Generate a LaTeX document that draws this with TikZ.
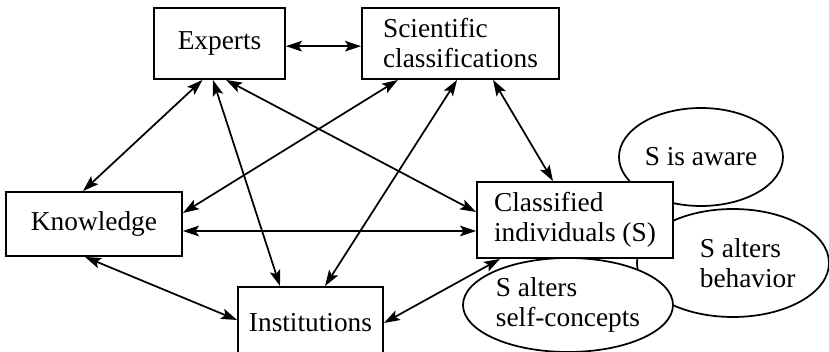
\documentclass[tikz,border=0pt]{standalone}
\usepackage{fontspec}
\setmainfont{Liberation Serif}
\usetikzlibrary{arrows.meta,shapes.geometric}

\tikzset{every picture/.style={line width=0.75pt}}
\tikzset{
  box/.style={draw, line width=1.4pt, fill=white, inner sep=0pt, align=left},
  bubble/.style={draw, ellipse, line width=1.3pt, fill=white, inner sep=0pt, align=left},
  link/.style={{Stealth[length=12pt,width=8pt,inset=2.5pt]}-{Stealth[length=12pt,width=8pt,inset=2.5pt]}, line width=1.3pt},
}

\begin{document}
\begin{tikzpicture}[x=0.75pt,y=0.75pt,yscale=-1,xscale=1,font=\rmfamily\fontsize{20.5}{22.5}\selectfont]
\useasboundingbox (0,0) rectangle (829,352);

% Ellipse Node
\node [bubble, minimum width=123pt, minimum height=73.5pt] (aware) at (701,157) {S is aware};
% Ellipse Node
\node [bubble, minimum width=144pt, minimum height=81pt,
  label={[align=left, xshift=11pt]center:S alters\\behavior}] (behavior) at (733,263) {};
% Ellipse Node
\node [bubble, minimum width=157.5pt, minimum height=70.5pt] (selfconcepts) at (568,305) {S alters\\self-concepts};
% Text Node
\node [box, minimum width=98.25pt, minimum height=53.25pt] (experts) at (219.5,43.5) {Experts};
% Text Node
\node [box, minimum width=147.75pt, minimum height=53.25pt] (scientific) at (460.5,43.5) {Scientific\\classifications};
% Text Node
\node [box, minimum width=132pt, minimum height=48pt] (knowledge) at (94,224) {Knowledge};
% Text Node
\node [box, minimum width=147pt, minimum height=57pt] (classified) at (575,220) {Classified\\individuals (S)};
% Text Node
\node [box, minimum width=108.75pt, minimum height=54pt] (institutions) at (310.5,323) {Institutions};

% Connection
\draw [link] ([yshift=2pt]experts.east) -- ([yshift=2pt]scientific.west);
% Connection
\draw [link] ([xshift=-12.75pt]experts.south) -- ([xshift=-8.25pt]knowledge.north);
% Connection
\draw [link] ([xshift=-4.9pt]experts.south) -- ([xshift=-22.9pt]institutions.north);
% Connection
\draw [link] ([xshift=4.9pt]experts.south) -- ([yshift=-6pt]classified.west);
% Connection
\draw [link] ([xshift=-46.9pt]scientific.south) -- ([yshift=-8.25pt]knowledge.east);
% Connection
\draw [link] ([xshift=-2.6pt]scientific.south) -- ([xshift=10.9pt]institutions.north);
% Connection
\draw [link] ([xshift=24.4pt]scientific.south) -- ([xshift=-16.5pt]classified.north);
% Connection
\draw [link] ([yshift=5.25pt]knowledge.east) -- ([yshift=8.25pt]classified.west);
% Connection
\draw [link] ([xshift=-6.75pt]knowledge.south) -- ([yshift=-2.25pt]institutions.west);
% Connection
\draw [link] ([xshift=-56.25pt]classified.south) -- (institutions.east);

\end{tikzpicture}
\end{document}
